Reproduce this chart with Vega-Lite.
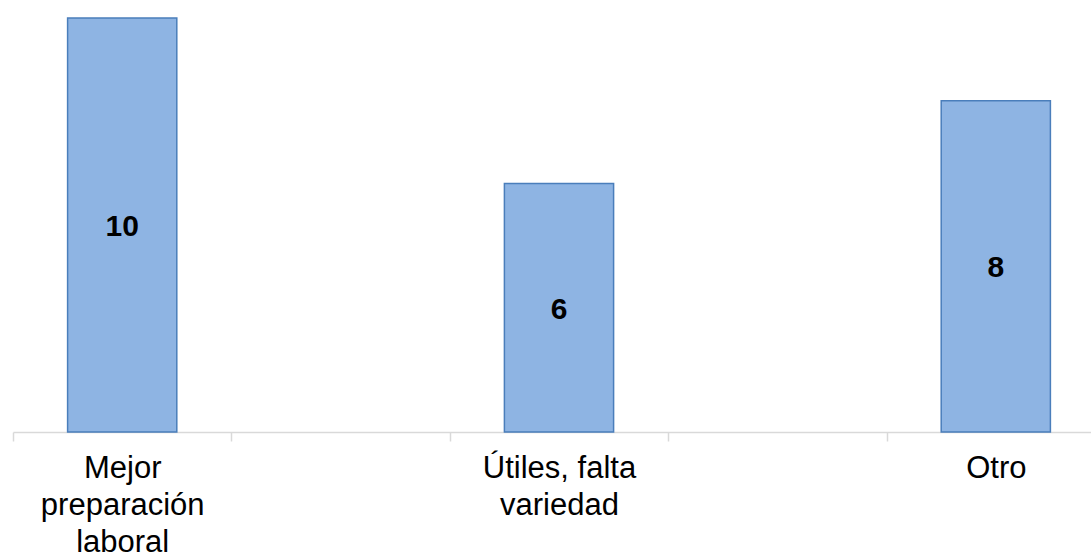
{
  "$schema": "https://vega.github.io/schema/vega-lite/v6.json",
  "autosize": {"type": "none"},
  "width": 1078,
  "height": 414,
  "padding": {"left": 13, "top": 18, "right": 0, "bottom": 123},
  "background": "white",
  "config": {"view": {"stroke": null}},
  "data": {
    "values": [
      {"categoria": "Mejor preparación laboral", "valor": 10},
      {"categoria": "Útiles, falta variedad", "valor": 6},
      {"categoria": "Otro", "valor": 8}
    ]
  },
  "transform": [{"calculate": "datum.valor / 2", "as": "medio"}],
  "encoding": {
    "x": {
      "field": "categoria",
      "type": "nominal",
      "sort": null,
      "scale": {
        "domain": ["Mejor preparación laboral", "_a", "Útiles, falta variedad", "_b", "Otro"],
        "range": [0, 1092],
        "paddingInner": 0.5,
        "paddingOuter": 0.25
      },
      "axis": {
        "title": null,
        "labelAngle": 0,
        "labelExpr": "datum.value == 'Mejor preparación laboral' ? ['Mejor', 'preparación', 'laboral'] : datum.value == 'Útiles, falta variedad' ? ['Útiles, falta', 'variedad'] : datum.value == 'Otro' ? 'Otro' : ''",
        "labelFont": "Liberation Sans",
        "labelFontSize": 31,
        "labelColor": "#000000",
        "labelLineHeight": 37,
        "labelBaseline": "top",
        "labelPadding": 12,
        "labelBound": false,
        "labelOverlap": false,
        "labelFlush": false,
        "labelLimit": 0,
        "tickOffset": -109.2,
        "labelOffset": 109.2,
        "tickSize": 9,
        "tickColor": "#D9D9D9",
        "tickWidth": 1.5,
        "domainColor": "#D9D9D9",
        "domainWidth": 1.5,
        "grid": false
      }
    }
  },
  "layer": [
    {
      "mark": {"type": "bar", "fill": "#8EB4E3", "stroke": "#4A7EBB", "strokeWidth": 1.5},
      "encoding": {
        "y": {"field": "valor", "type": "quantitative", "scale": {"domain": [0, 10], "nice": false}, "axis": null}
      }
    },
    {
      "mark": {"type": "text", "font": "Liberation Sans", "fontSize": 30, "fontWeight": "bold", "color": "#000000", "baseline": "middle", "align": "center", "dy": 2},
      "encoding": {
        "y": {"field": "medio", "type": "quantitative", "scale": {"domain": [0, 10], "nice": false}, "axis": null},
        "text": {"field": "valor", "type": "quantitative"}
      }
    }
  ]
}
